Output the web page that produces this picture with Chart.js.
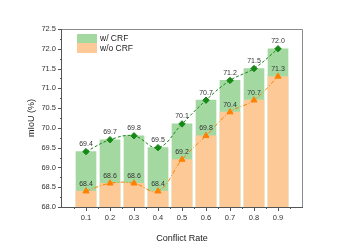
<!DOCTYPE html>
<html>
<head>
<meta charset="utf-8">
<script src="https://cdn.jsdelivr.net/npm/chart.js@4"></script>
<style>
  html, body { margin: 0; padding: 0; background: #fff; }
  #wrap { width: 351px; height: 248px; }
</style>
</head>
<body>
<div id="wrap"><canvas id="myChart" width="351" height="248"></canvas></div>
<script>
const rates = [0.1, 0.2, 0.3, 0.4, 0.5, 0.6, 0.7, 0.8, 0.9];
const withCRF = [69.4, 69.7, 69.8, 69.5, 70.1, 70.7, 71.2, 71.5, 72.0];
const withoutCRF = [68.4, 68.6, 68.6, 68.4, 69.2, 69.8, 70.4, 70.7, 71.3];
const yMin = 68.0, yMax = 72.5;
const seriesNames = ['w/ CRF', 'w/o CRF'];

const FONT = '"Liberation Sans", Arial, sans-serif';
const greenBar = '#a3d8a0', orangeBar = '#fdc997';
const greenLine = '#168816', orangeLine = '#ff8000';

const pts = vals => rates.map((r, i) => ({ x: r, y: vals[i] }));
const bars = vals => rates.map((r, i) => ({ x: r, y: [yMin, vals[i]] }));

// frame, minor ticks, value labels, legend
const extras = {
  id: 'extras',
  afterDraw(chart) {
    const { ctx, chartArea: a, scales: { x, y } } = chart;
    ctx.save();
    // top/right border
    ctx.strokeStyle = '#8a8a8a';
    ctx.lineWidth = 1;
    ctx.beginPath();
    ctx.moveTo(a.left, a.top + 0.5); ctx.lineTo(a.right + 0.5, a.top + 0.5); ctx.lineTo(a.right + 0.5, a.bottom);
    ctx.stroke();
    // axes
    ctx.strokeStyle = '#555';
    ctx.beginPath();
    ctx.moveTo(a.left - 0.5, a.top); ctx.lineTo(a.left - 0.5, a.bottom + 0.5); ctx.lineTo(a.right + 1, a.bottom + 0.5);
    ctx.stroke();
    // y ticks
    ctx.beginPath();
    for (let v = yMin; v <= yMax + 1e-9; v += 0.25) {
      const py = Math.round(y.getPixelForValue(v)) + 0.5;
      const major = Math.abs(v * 2 - Math.round(v * 2)) < 1e-6;
      ctx.moveTo(a.left, py); ctx.lineTo(a.left - (major ? 4 : 2), py);
    }
    // x ticks
    for (let k = 1; k <= 19; k++) {
      const v = k * 0.05;
      const px = Math.round(x.getPixelForValue(v)) + 0.5;
      const major = k % 2 === 0;
      ctx.moveTo(px, a.bottom); ctx.lineTo(px, a.bottom + (major ? 4 : 2));
    }
    ctx.stroke();

    // value labels
    ctx.font = '7px ' + FONT;
    ctx.fillStyle = '#333';
    ctx.textAlign = 'center';
    ctx.textBaseline = 'bottom';
    [[2, withCRF], [3, withoutCRF]].forEach(([di, vals]) => {
      chart.getDatasetMeta(di).data.forEach((p, i) => {
        ctx.fillText(vals[i].toFixed(1), p.x, p.y - 4);
      });
    });

    // legend
    const lx = a.left + 15, ly = a.top + 5;
    ctx.fillStyle = greenBar; ctx.fillRect(lx, ly, 20, 9);
    ctx.fillStyle = orangeBar; ctx.fillRect(lx, ly + 9, 20, 10);
    ctx.font = '8.5px ' + FONT;
    ctx.fillStyle = '#222';
    ctx.textAlign = 'left';
    ctx.textBaseline = 'middle';
    ctx.fillText(seriesNames[0], lx + 23, ly + 5);
    ctx.fillText(seriesNames[1], lx + 23, ly + 14.5);
    ctx.restore();
  }
};

new Chart(document.getElementById('myChart'), {
  data: {
    datasets: [
      { type: 'bar', label: seriesNames[1], data: bars(withoutCRF), backgroundColor: orangeBar,
        barThickness: 20, grouped: false, order: 2 },
      { type: 'bar', label: seriesNames[0], data: bars(withCRF), backgroundColor: greenBar,
        barThickness: 20, grouped: false, order: 3 },
      { type: 'line', label: seriesNames[0], data: pts(withCRF), borderColor: greenLine, borderWidth: 1,
        borderDash: [3, 2], tension: 0.4, pointStyle: 'rectRot', pointRadius: 3.2,
        pointBackgroundColor: greenLine, pointBorderColor: greenLine, order: 0 },
      { type: 'line', label: seriesNames[1], data: pts(withoutCRF), borderColor: orangeLine, borderWidth: 1,
        borderDash: [4, 2, 1, 2], tension: 0.4, pointStyle: 'triangle', pointRadius: 3.5,
        pointBackgroundColor: orangeLine, pointBorderColor: orangeLine, order: 1 }
    ]
  },
  options: {
    responsive: false,
    animation: false,
    layout: { padding: { left: 26, right: 49, top: 29, bottom: 0 } },
    plugins: { legend: { display: false }, tooltip: { enabled: false } },
    scales: {
      x: {
        type: 'linear', min: 0, max: 1, offset: false,
        grid: { display: false, drawTicks: false },
        border: { display: false },
        afterFit: s => { s.height = 41; },
        ticks: {
          stepSize: 0.1, padding: 6, color: '#333', font: { family: FONT, size: 7.5 },
          callback: v => (v > 0.05 && v < 0.95) ? v.toFixed(1) : ''
        },
        title: { display: true, text: 'Conflict Rate', color: '#222', font: { family: FONT, size: 9 }, padding: { top: 4 } }
      },
      y: {
        min: yMin, max: yMax,
        grid: { display: false, drawTicks: false },
        border: { display: false },
        afterFit: s => { s.width = 36; },
        ticks: { stepSize: 0.5, padding: 6, color: '#333', font: { family: FONT, size: 7.5 },
          callback: v => v.toFixed(1) },
        title: { display: true, text: 'mIoU (%)', color: '#222', font: { family: FONT, size: 9 }, padding: 0 }
      }
    }
  },
  plugins: [extras]
});
</script>
</body>
</html>
